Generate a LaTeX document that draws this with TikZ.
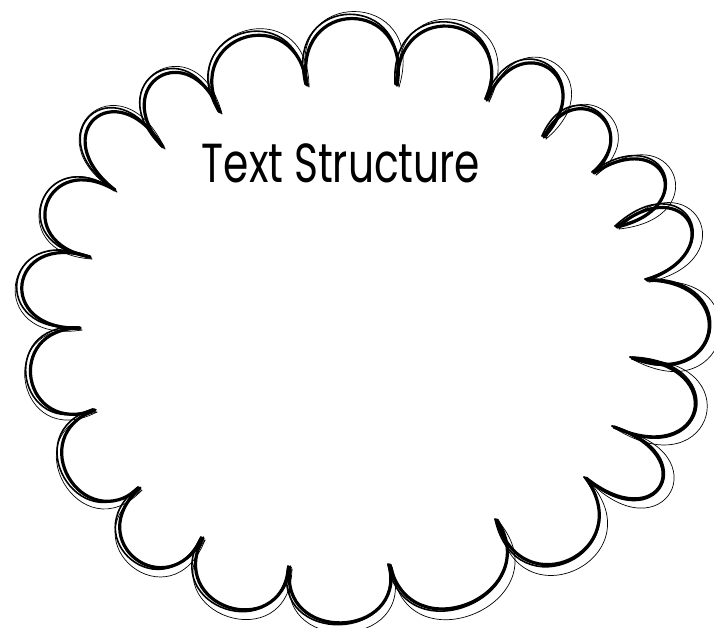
\documentclass[tikz,border=0pt]{standalone}
\usepackage{fontspec}
\setmainfont{Poppins}
\usetikzlibrary{calc}
\newcommand\scallop[3]{%
  \foreach \i/\j/\k in {1/2/1.12,2/3/1.4,3/4/1.25,4/5/0.95,5/6/1.0,6/7/0.99,7/8/1.2,8/9/1.1,9/10/1.45,10/11/1.45,11/12/1.2,12/13/1.4,13/14/1.6,14/15/0.92,15/16/0.77,16/17/0.77,17/18/0.85,18/19/0.98,19/20/0.85,20/21/0.93,21/1/1.2}{
    \pgfmathsetmacro\kk{\k*#2}
    \draw[#1] (c\i) .. controls ($(c\i)!\kk!#3:(c\j)$) and ($(c\j)!\kk!-#3:(c\i)$) .. (c\j);
  }}
\begin{document}
\begin{tikzpicture}[x=1pt,y=-1pt,line cap=round,line join=round,
  mainline/.style={line width=3.2pt,black},
  sketchB/.style={line width=1.6pt,black},
  sketchC/.style={line width=0.7pt,black}]
\useasboundingbox (0,0) rectangle (714,627);
\fill[white] (0,0) rectangle (714,627);
\coordinate (c1) at (90,257);
\coordinate (c2) at (115,190);
\coordinate (c3) at (163,147);
\coordinate (c4) at (220,112);
\coordinate (c5) at (307,85);
\coordinate (c6) at (397,85);
\coordinate (c7) at (487,100);
\coordinate (c8) at (544,137);
\coordinate (c9) at (594,173);
\coordinate (c10) at (617,227);
\coordinate (c11) at (647,280);
\coordinate (c12) at (632,358);
\coordinate (c13) at (614,427);
\coordinate (c14) at (586,478);
\coordinate (c15) at (497,520);
\coordinate (c16) at (390,565);
\coordinate (c17) at (290,567);
\coordinate (c18) at (203,538);
\coordinate (c19) at (140,488);
\coordinate (c20) at (95,410);
\coordinate (c21) at (80,328);
\scallop{mainline}{1.0}{100}
\begin{scope}[transform canvas={xshift=-2pt,yshift=1pt}]
\scallop{sketchB}{1.06}{103}
\end{scope}
\begin{scope}[transform canvas={xshift=2pt,yshift=-2pt}]
\scallop{sketchC}{1.17}{107}
\end{scope}
\node[anchor=base,inner sep=0pt,font=\fontsize{55}{66}\selectfont] (title) at (341,182) {\scalebox{0.74}[1]{Text Structure}};
\end{tikzpicture}
\end{document}
